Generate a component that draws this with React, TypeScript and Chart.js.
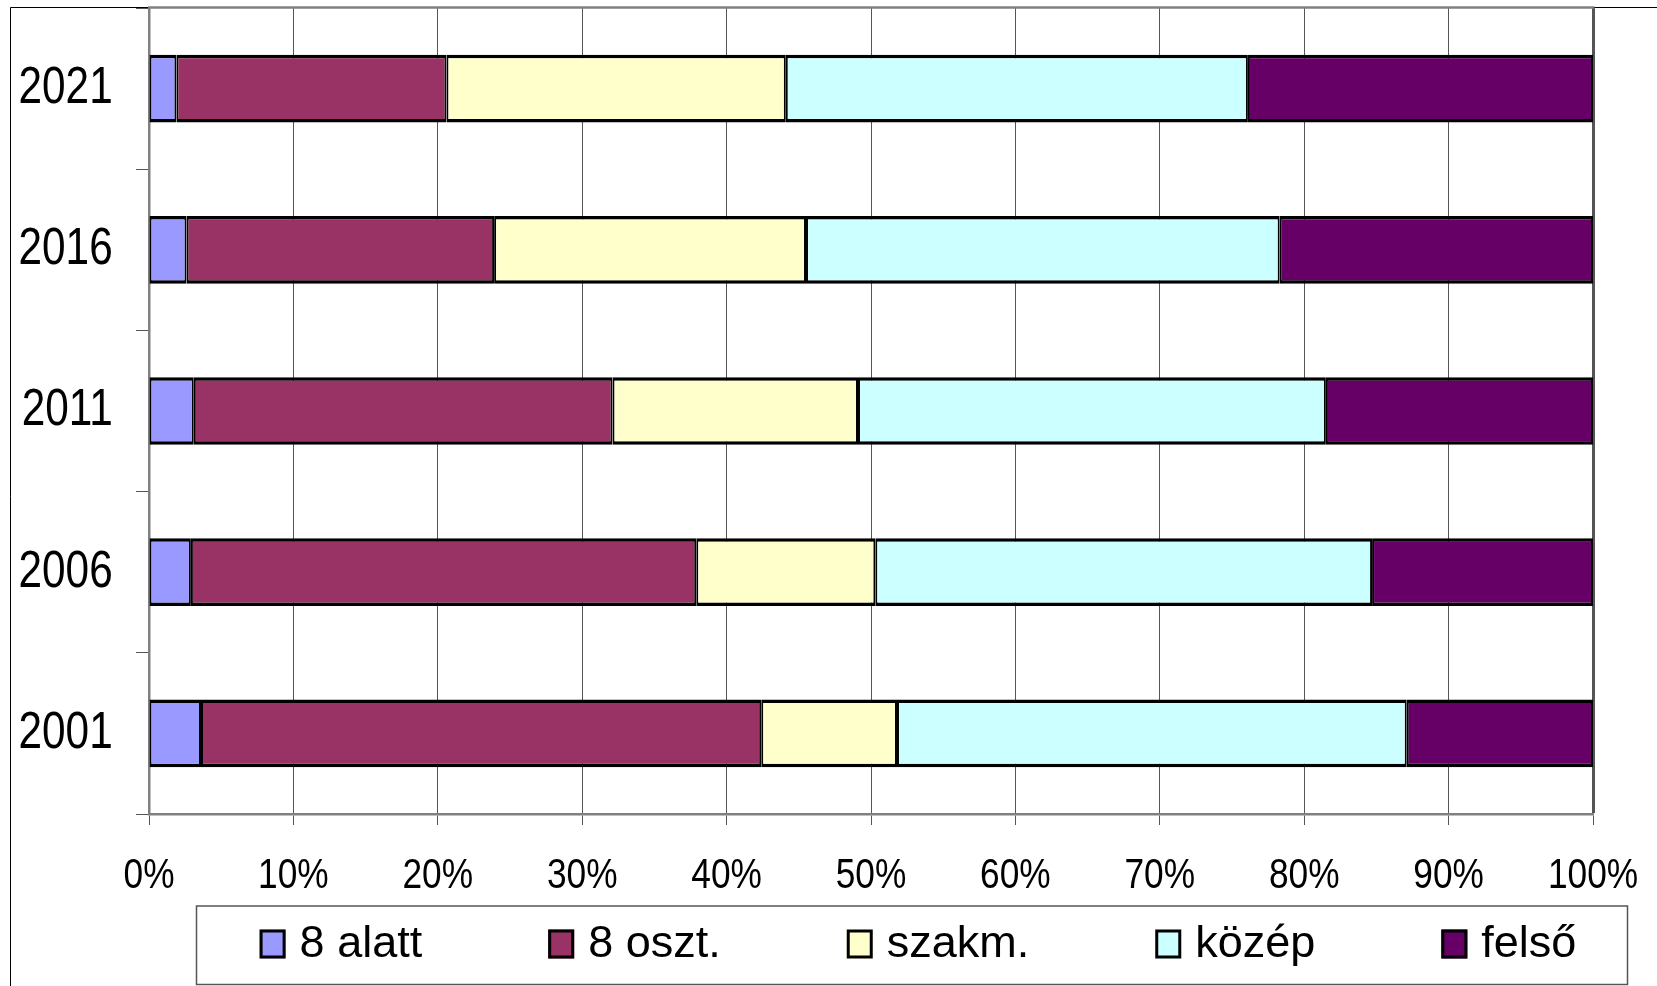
import React, { useEffect, useRef } from 'react';
import { Chart, registerables } from 'chart.js';

Chart.register(...registerables);

// Categories (top to bottom)
const years = ['2021', '2016', '2011', '2006', '2001'];

// Series (percent shares)
const seriesNames = ['8 alatt', '8 oszt.', 'szakm.', 'közép', 'felső'];
const alatt8 = [1.9, 2.6, 3.1, 2.9, 3.6];
const oszt8 = [18.7, 21.3, 29.0, 35.0, 38.8];
const szakm = [23.5, 21.6, 17.0, 12.4, 9.4];
const kozep = [32.0, 32.8, 32.4, 34.4, 35.3];
const felso = [23.9, 21.7, 18.5, 15.3, 12.9];
const seriesColors = ['#9999FF', '#993366', '#FFFFCC', '#CCFFFF', '#660066'];

// X axis tick settings
const xMin = 0;
const xMax = 100;
const xStep = 10;

const W = 1657;
const H = 986;
const FONT = '"Liberation Sans", Arial, sans-serif';

const framePlugin = {
  id: 'frame',
  beforeDraw(chart: any) {
    const ctx = chart.ctx;
    ctx.save();
    ctx.fillStyle = '#ffffff';
    ctx.fillRect(0, 0, chart.width, chart.height);
    ctx.restore();
  },
  afterDraw(chart: any) {
    const ctx = chart.ctx;
    const a = chart.chartArea;
    ctx.save();
    ctx.strokeStyle = '#000';
    ctx.lineWidth = 1;
    ctx.beginPath();
    ctx.moveTo(10.5, H);
    ctx.lineTo(10.5, 7.5);
    ctx.lineTo(W, 7.5);
    ctx.stroke();
    ctx.strokeStyle = '#808080';
    ctx.lineWidth = 2.5;
    ctx.beginPath();
    ctx.moveTo(a.left - 1, a.top - 0.5);
    ctx.lineTo(a.right + 1.5, a.top - 0.5);
    ctx.stroke();
    ctx.restore();
  },
};

// Axis tick labels, drawn condensed (Excel-style stretched text)
const labelPlugin = {
  id: 'narrowLabels',
  afterDraw(chart: any) {
    const ctx = chart.ctx;
    const xs = chart.scales.x;
    const ys = chart.scales.y;
    ctx.save();
    ctx.fillStyle = '#000';
    ctx.textBaseline = 'alphabetic';
    ctx.font = `43px ${FONT}`;
    ctx.textAlign = 'center';
    xs.ticks.forEach((t: any, i: number) => {
      const px = xs.getPixelForTick(i);
      ctx.save();
      ctx.translate(px, 887.5);
      ctx.scale(0.82, 1);
      ctx.fillText(String(t.label), 0, 0);
      ctx.restore();
    });
    ctx.font = `51px ${FONT}`;
    ctx.textAlign = 'right';
    ys.ticks.forEach((t: any, i: number) => {
      const py = ys.getPixelForTick(i);
      ctx.save();
      ctx.translate(112.7, py + 14.3);
      ctx.scale(0.83, 1);
      ctx.fillText(String(t.label), 0, 0);
      ctx.restore();
    });
    ctx.restore();
  },
};

const legendPlugin = {
  id: 'excelLegend',
  afterDraw(chart: any) {
    const ctx = chart.ctx;
    ctx.save();
    ctx.strokeStyle = '#555';
    ctx.lineWidth = 1.5;
    ctx.strokeRect(196.5, 906, 1431, 78.5);
    ctx.font = `45px ${FONT}`;
    const items = chart.data.datasets.map((ds: any) => ({
      text: ds.label,
      color: ds.backgroundColor,
      w: ctx.measureText(ds.label).width,
    }));
    const boxW = 26;
    const boxH = 29;
    const boxY = 929.5;
    const gapBT = 14;
    const gapItem = 126;
    const total =
      items.reduce((s: number, it: any) => s + boxW + gapBT + it.w, 0) + gapItem * (items.length - 1);
    let x = 918 - total / 2;
    for (const it of items) {
      ctx.fillStyle = it.color;
      ctx.fillRect(x, boxY, boxW, boxH);
      ctx.lineWidth = 3;
      ctx.strokeStyle = '#000';
      ctx.strokeRect(x + 1.5, boxY + 1.5, boxW - 3, boxH - 3);
      ctx.fillStyle = '#000';
      ctx.textBaseline = 'alphabetic';
      ctx.textAlign = 'left';
      ctx.fillText(it.text, x + boxW + gapBT, 957);
      x += boxW + gapBT + it.w + gapItem;
    }
    ctx.restore();
  },
};

const zeroPad = (s: any) => {
  s.paddingLeft = 0;
  s.paddingRight = 0;
  s.paddingTop = 0;
  s.paddingBottom = 0;
};

export default function App() {
  const ref = useRef<HTMLCanvasElement>(null);

  useEffect(() => {
    document.body.style.margin = '0';
    const canvas = ref.current;
    if (!canvas) return;
    const seriesData = [alatt8, oszt8, szakm, kozep, felso];
    const chart = new Chart(canvas, {
      type: 'bar',
      data: {
        labels: years,
        datasets: seriesNames.map((name, i) => ({
          label: name,
          data: seriesData[i],
          backgroundColor: seriesColors[i],
          borderColor: '#000000',
          borderWidth: { top: 3.5, bottom: 3.5, left: 2, right: 2 },
          borderSkipped: false,
          categoryPercentage: 1,
          barPercentage: 0.42,
        })),
      },
      options: {
        indexAxis: 'y',
        animation: false,
        responsive: false,
        maintainAspectRatio: false,
        devicePixelRatio: 1,
        layout: { padding: { left: 11, top: 8, right: W - 1593, bottom: 0 } },
        plugins: {
          legend: { display: false },
          tooltip: { enabled: false },
        },
        scales: {
          x: {
            stacked: true,
            min: xMin,
            max: xMax,
            ticks: {
              display: false,
              stepSize: xStep,
              callback: (v: any) => v + '%',
              autoSkip: false,
            },
            grid: {
              color: '#555555',
              lineWidth: (c: any) => (c.index === 10 ? 3 : 1),
              drawTicks: true,
              tickLength: 11,
              tickColor: '#555',
              tickWidth: 1,
            },
            border: { display: true, color: '#808080', width: 2.5 },
            afterFit: (s: any) => {
              s.height = H - 814;
              zeroPad(s);
            },
          },
          y: {
            stacked: true,
            ticks: {
              display: false,
            },
            grid: {
              offset: true,
              drawOnChartArea: false,
              drawTicks: true,
              tickLength: 13,
              tickColor: '#555',
              tickWidth: 1,
            },
            border: { display: true, color: '#808080', width: 2.5 },
            afterFit: (s: any) => {
              s.width = 149 - 11;
              zeroPad(s);
            },
          },
        },
      },
      plugins: [framePlugin, labelPlugin, legendPlugin],
    } as any);
    return () => chart.destroy();
  }, []);

  return <canvas ref={ref} width={W} height={H} style={{ display: 'block', width: W, height: H }} />;
}
